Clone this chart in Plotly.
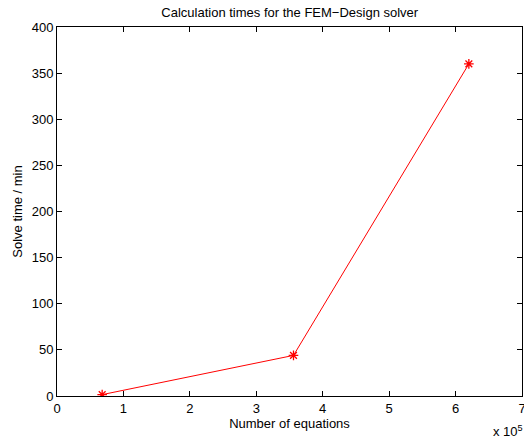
import plotly.graph_objects as go

equations = [0.68e5, 3.56e5, 6.20e5]
solve_time = [1.5, 44, 360]
x_ticks = [0, 1e5, 2e5, 3e5, 4e5, 5e5, 6e5, 7e5]
x_tick_labels = ["0", "1", "2", "3", "4", "5", "6", "7"]
y_ticks = [0, 50, 100, 150, 200, 250, 300, 350, 400]

font = dict(family="Liberation Sans, Arial, sans-serif", size=13, color="black")

fig = go.Figure()
fig.add_trace(go.Scatter(
    x=equations, y=solve_time, mode="lines+markers",
    line=dict(color="red", width=1),
    marker=dict(symbol="asterisk-open", size=8, color="red", line=dict(color="red", width=1.3)),
    showlegend=False,
))

axis_common = dict(
    showline=True, linecolor="black", linewidth=1, mirror="ticks",
    ticks="inside", ticklen=5, tickcolor="black", tickwidth=1,
    showgrid=False, zeroline=False, tickfont=font, ticklabeloverflow="allow",
    automargin=False,
)
fig.update_layout(
    width=524, height=439,
    margin=dict(l=57, r=2, t=27, b=43),
    paper_bgcolor="white", plot_bgcolor="white",
    font=font,
    title=dict(text="Calculation times for the FEM\u2212Design solver", x=0.553, xanchor="center",
               y=1 - 12 / 439, yanchor="middle", font=dict(size=13)),
    xaxis=dict(range=[0, 7e5], tickvals=x_ticks, ticktext=x_tick_labels,
               title=dict(text="Number of equations", standoff=1, font=font), **axis_common),
    yaxis=dict(range=[0, 400], tickvals=y_ticks,
               title=dict(text="Solve time / min", standoff=6, font=font), **axis_common),
)
fig.add_annotation(text="x 10<sup>5</sup>", xref="paper", yref="paper", x=1.0, y=-0.068,
                   xanchor="left", yanchor="top", showarrow=False, xshift=-31, font=font)
fig.write_html("out.html")
